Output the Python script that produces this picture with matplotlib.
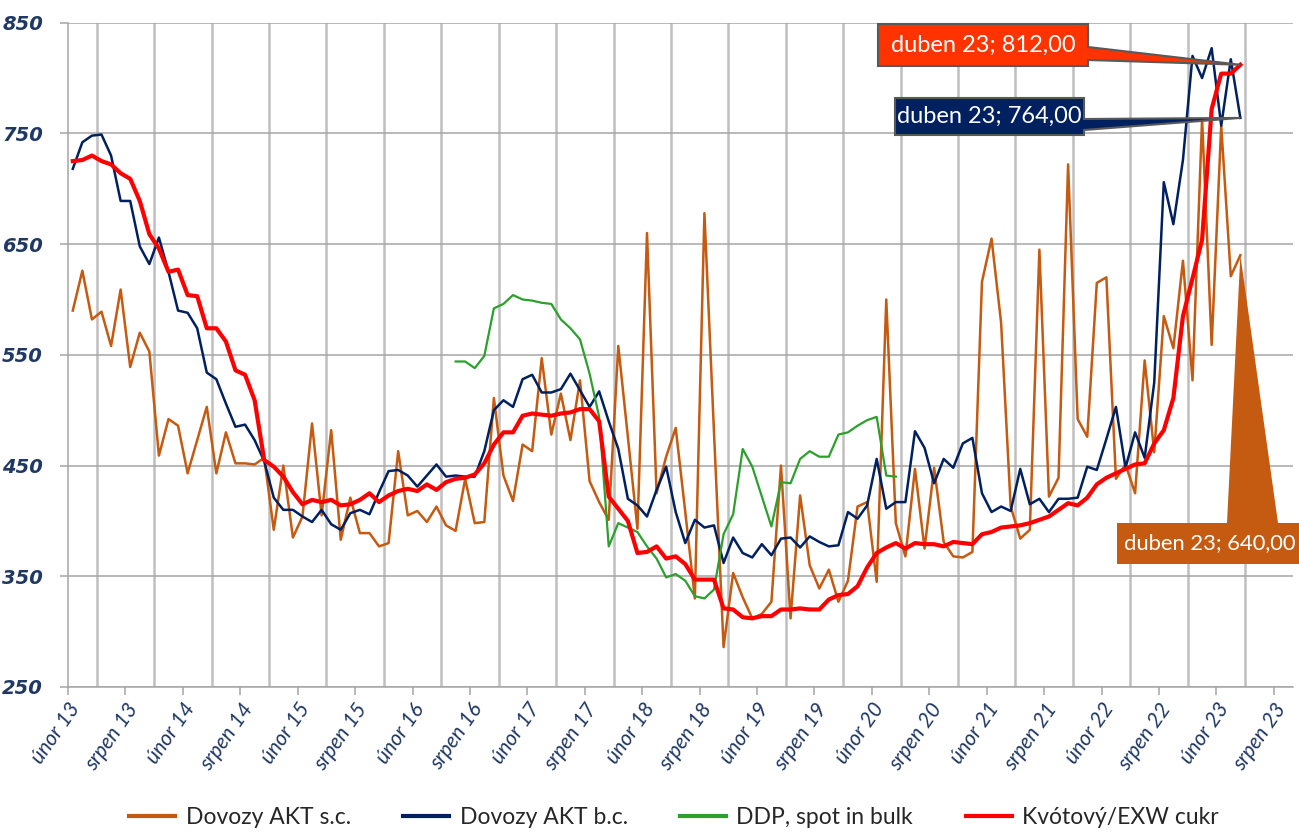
import matplotlib
matplotlib.use("Agg")
import matplotlib.pyplot as plt
import matplotlib.transforms as mtransforms
from matplotlib.patches import Polygon
from matplotlib.ticker import FixedLocator
import numpy as np

# ---------------- data (monthly, Feb 2013 .. Apr 2023) ----------------
tick_labels = []
for yy in range(13, 24):
    tick_labels += ["únor %d" % yy, "srpen %d" % yy]

akt_sc = [590, 626, 582, 589, 558, 609, 539, 570, 553, 459, 492, 486, 443, 473, 503, 443,
          480, 452, 452, 451, 457, 392, 450, 385, 404, 488, 405, 482, 383, 421, 389, 389,
          377, 380, 463, 405, 409, 399, 413, 396, 391, 438, 398, 399, 511, 441, 418, 469,
          463, 547, 478, 515, 473, 527, 436, 417, 401, 558, 476, 393, 660, 425, 458, 484,
          408, 330, 678, 480, 286, 353, 331, 312, 316, 327, 450, 312, 423, 360, 339, 356,
          327, 346, 413, 417, 345, 600, 398, 368, 447, 375, 448, 381, 368, 367, 372, 616,
          655, 579, 413, 384, 392, 645, 422, 439, 722, 492, 476, 615, 620, 438, 451, 425,
          545, 462, 585, 556, 635, 527, 763, 559, 757, 621, 640]

akt_bc = [718, 742, 748, 749, 730, 689, 689, 648, 632, 656, 625, 590, 588, 574, 534, 528,
          506, 485, 487, 473, 454, 421, 410, 410, 404, 399, 410, 397, 392, 407, 410, 406,
          426, 445, 446, 441, 431, 441, 451, 440, 441, 440, 440, 463, 500, 509, 503, 528,
          532, 516, 516, 519, 533, 518, 503, 517, 490, 465, 420, 414, 404, 428, 449, 408,
          380, 401, 394, 396, 362, 385, 371, 367, 379, 369, 384, 385, 376, 386, 381, 377,
          378, 408, 402, 414, 456, 411, 417, 417, 481, 466, 434, 456, 448, 470, 475, 425,
          408, 413, 409, 447, 415, 420, 408, 420, 420, 421, 449, 446, 474, 503, 448, 480,
          457, 525, 706, 668, 726, 820, 800, 827, 757, 817, 764]

ddp_start = 40  # first month index of the DDP series (Jun 2016)
ddp = [544, 544, 538, 549, 592, 596, 604, 600, 599, 597, 596, 582, 574, 564, 533, 494,
       377, 398, 394, 390, 377, 366, 349, 352, 346, 332, 330, 338, 388, 406, 465, 449,
       422, 395, 435, 434, 456, 463, 458, 458, 478, 480, 486, 491, 494, 441, 440]

kvota = [725, 726, 730, 725, 722, 714, 709, 689, 659, 646, 625, 627, 604, 603, 574, 574,
         562, 536, 532, 509, 455, 449, 440, 426, 415, 419, 417, 419, 414, 415, 419, 425,
         417, 423, 427, 429, 427, 433, 428, 435, 438, 439, 442, 452, 469, 480, 480, 495,
         497, 496, 495, 497, 498, 501, 501, 490, 422, 411, 400, 371, 372, 377, 366, 368,
         361, 347, 347, 347, 321, 320, 313, 312, 314, 314, 320, 320, 321, 320, 320, 329,
         333, 334, 341, 358, 371, 376, 380, 375, 380, 379, 379, 377, 381, 380, 379, 388,
         390, 394, 395, 396, 398, 401, 404, 410, 416, 414, 421, 433, 439, 443, 447, 451,
         452, 470, 482, 511, 585, 619, 654, 772, 804, 804, 812]

series_names = ["Dovozy AKT s.c.", "Dovozy AKT b.c.", "DDP, spot in bulk", "Kvótový/EXW cukr"]
colors = ["#C55A11", "#002060", "#2CA02C", "#FF0000"]
navy = "#1F3864"

# ---------------- figure ----------------
W, H = 1299, 834
fig = plt.figure(figsize=(W / 100, H / 100), dpi=100)
ax = fig.add_axes([68 / W, 1 - 687 / H, (1293 - 68) / W, (687 - 22.7) / H])

n = len(kvota)
x = np.arange(n) + 0.5
x_ddp = np.arange(ddp_start, ddp_start + len(ddp)) + 0.5

ax.plot(x, akt_sc, color=colors[0], lw=1.8, label=series_names[0], zorder=3)
ax.plot(x, akt_bc, color=colors[1], lw=1.8, label=series_names[1], zorder=4)
ax.plot(x_ddp, ddp, color=colors[2], lw=1.6, label=series_names[2], zorder=5)
ax.plot(x, kvota, color=colors[3], lw=3.0, label=series_names[3], zorder=6)

ax.set_xlim(0, 128)
ax.set_ylim(250, 850)

ax.set_yticks(np.arange(250, 851, 100))
ax.yaxis.grid(True, color="#A6A6A6", lw=1.1)
ax.set_xticks(np.arange(0, 127, 6))
ax.set_xticklabels(tick_labels)
ax.xaxis.set_minor_locator(FixedLocator(np.arange(3, 127, 3)))
ax.xaxis.grid(True, which="minor", color="#BFBFBF", lw=1.8)
ax.set_axisbelow(True)

for s in ["top", "right"]:
    ax.spines[s].set_visible(False)
for s in ["left", "bottom"]:
    ax.spines[s].set_color("#A6A6A6")
    ax.spines[s].set_linewidth(1.1)

ax.tick_params(axis="x", which="major", direction="out", length=6, color="#A6A6A6", width=1.1, pad=3)
ax.tick_params(axis="x", which="minor", length=0)
ax.tick_params(axis="y", direction="out", length=6, color="#A6A6A6", width=1.1, pad=12)

for lab in ax.get_yticklabels():
    lab.set_fontfamily("DejaVu Sans")
    lab.set_fontweight("bold")
    lab.set_fontstyle("italic")
    lab.set_fontsize(14)
    lab.set_color(navy)

for lab in ax.get_xticklabels():
    lab.set_fontfamily("Lato")
    lab.set_fontstyle("italic")
    lab.set_fontsize(15)
    lab.set_color(navy)
    lab.set_rotation(55)
    lab.set_ha("right")
    lab.set_va("top")
    lab.set_rotation_mode("anchor")

leg = fig.legend(loc="center", bbox_to_anchor=(674 / W, 1 - 818 / H), ncol=4, frameon=False,
                 prop={"family": "Lato", "size": 16.5}, handlelength=2.0, columnspacing=2.3,
                 handletextpad=0.45)
for t in leg.get_texts():
    t.set_color("#262626")
for h in leg.get_lines():
    h.set_linewidth(3.0)

# ---------------- callouts ----------------
ident = mtransforms.IdentityTransform()
last = n - 1 + 0.5


def px(xv, yv):
    return ax.transData.transform((xv, yv))


def fy(ytop):
    return H - ytop


# 812 callout (red-orange), wedge from right edge of the box
tip = px(last, kvota[-1])
bx0, bx1, by0, by1 = 878, 1088, fy(66), fy(24)
poly = [(bx0, by1), (bx1, by1), (bx1, fy(47)), tuple(tip), (bx1, fy(60)), (bx1, by0), (bx0, by0)]
fig.patches.append(Polygon(poly, closed=True, transform=ident, fc="#FF3300", ec="#595959", lw=1.5, zorder=10))
fig.text((bx0 + bx1) / 2, (by0 + by1) / 2, "duben 23; %d,00" % kvota[-1], transform=ident,
         ha="center", va="center", color="white", fontsize=17, family="Lato", zorder=11)

# 764 callout (navy)
tip = px(last, akt_bc[-1])
bx0, bx1, by0, by1 = 895, 1084, fy(135), fy(98)
poly = [(bx0, by1), (bx1, by1), (bx1, fy(119)), tuple(tip), (bx1, fy(130)), (bx1, by0), (bx0, by0)]
fig.patches.append(Polygon(poly, closed=True, transform=ident, fc="#002060", ec="#595959", lw=1.5, zorder=10))
fig.text((bx0 + bx1) / 2, (by0 + by1) / 2, "duben 23; %d,00" % akt_bc[-1], transform=ident,
         ha="center", va="center", color="white", fontsize=17, family="Lato", zorder=11)

# 640 callout (brown), wedge from top edge of the box
tip = px(last, akt_sc[-1])
bx0, bx1, by0, by1 = 1117, 1310, fy(564), fy(523)
poly = [(bx0, by1), (1227, by1), tuple(tip), (1278, by1), (bx1, by1), (bx1, by0), (bx0, by0)]
fig.patches.append(Polygon(poly, closed=True, transform=ident, fc="#C55A11", ec="none", zorder=10))
fig.text(1124, (by0 + by1) / 2, "duben 23; %d,00" % akt_sc[-1], transform=ident,
         ha="left", va="center", color="white", fontsize=15.8, family="Lato", zorder=11)

fig.savefig("out.png", dpi=100)
